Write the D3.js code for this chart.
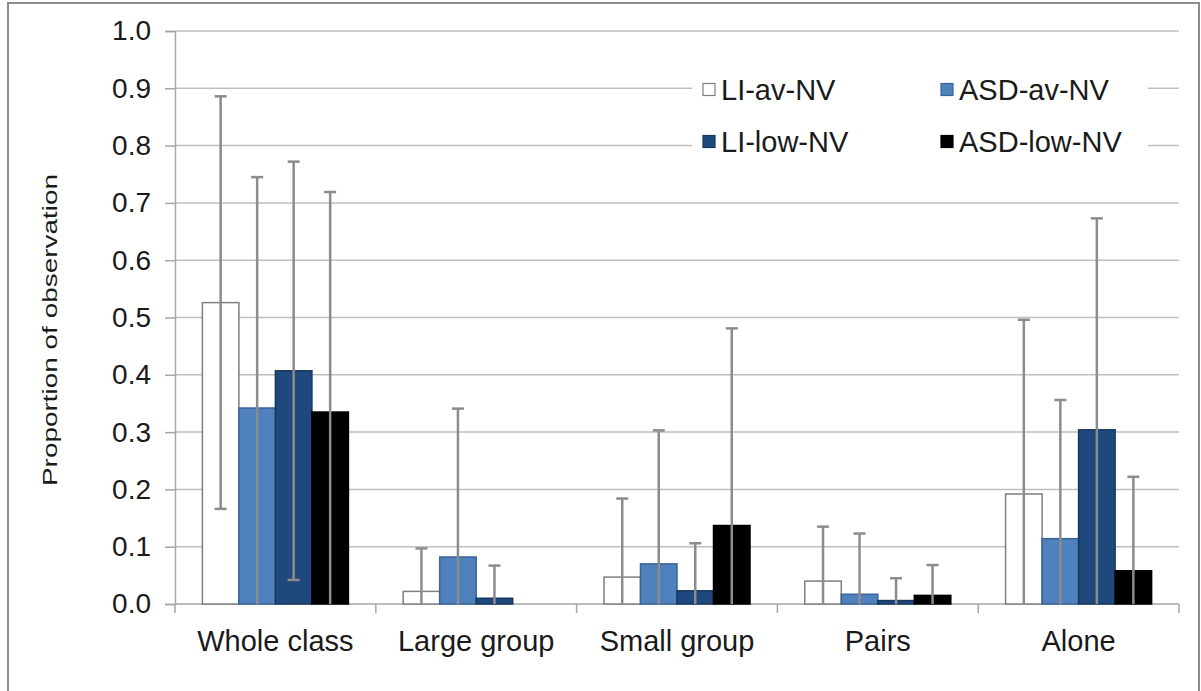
<!DOCTYPE html>
<html lang="en">
<head>
<meta charset="UTF-8">
<title>Proportion of observation</title>
<style>
    body { margin: 0; background: #fff; }
    svg text { font-family: "Liberation Sans", Arial, sans-serif; fill: #1a1a1a; }
</style>
</head>
<body>
<div id="chart"></div>
<script src="https://d3js.org/d3.v7.min.js"></script>
<script>
    // data
    const categories = ["Whole class", "Large group", "Small group", "Pairs", "Alone"];
    const seriesNames = ["LI-av-NV", "ASD-av-NV", "LI-low-NV", "ASD-low-NV"];
    const liAv = [0.526, 0.022, 0.047, 0.040, 0.192];
    const asdAv = [0.342, 0.082, 0.070, 0.017, 0.114];
    const liLow = [0.407, 0.010, 0.023, 0.006, 0.304];
    const asdLow = [0.335, 0.000, 0.137, 0.015, 0.058];
    const liAvSd = [0.360, 0.075, 0.137, 0.095, 0.304];
    const asdAvSd = [0.403, 0.259, 0.233, 0.106, 0.242];
    const liLowSd = [0.365, 0.057, 0.083, 0.039, 0.369];
    const asdLowSd = [0.384, 0.000, 0.344, 0.053, 0.164];
    const yTicks = [0, 0.1, 0.2, 0.3, 0.4, 0.5, 0.6, 0.7, 0.8, 0.9, 1.0];

    const means = [liAv, asdAv, liLow, asdLow];
    const sds = [liAvSd, asdAvSd, liLowSd, asdLowSd];
    const fills = ["#ffffff", "#4f81bd", "#1f497d", "#000000"];
    const strokes = ["#7f7f7f", "#3a6396", "#17375e", "#000000"];

    const width = 1201, height = 691;
    const plotLeft = 175, plotRight = 1179, plotTop = 31, plotBottom = 604;

    const svg = d3.select("#chart").append("svg")
        .attr("width", width)
        .attr("height", height);

    // outer frame
    svg.append("rect")
        .attr("x", 8).attr("y", 3)
        .attr("width", 1191).attr("height", 720)
        .attr("fill", "#fff")
        .attr("stroke", "#8c8c8c")
        .attr("stroke-width", 2);

    const x0 = d3.scaleBand().domain(categories).range([plotLeft, plotRight]);
    // excel gap width 150%: 4 bars + 1.5 bar of gap per category
    const gap = x0.bandwidth() * 0.75 / 5.5;
    const x1 = d3.scaleBand().domain(seriesNames).range([gap, x0.bandwidth() - gap]);
    const y = d3.scaleLinear().domain([0, 1]).range([plotBottom, plotTop]);

    // gridlines
    svg.append("g").selectAll("line")
        .data(yTicks.filter(d => d > 0))
        .join("line")
        .attr("x1", plotLeft).attr("x2", plotRight)
        .attr("y1", d => y(d)).attr("y2", d => y(d))
        .attr("stroke", "#bfbfbf")
        .attr("stroke-width", 1.5);

    // y axis
    const yAxis = d3.axisLeft(y)
        .tickValues(yTicks)
        .tickFormat(d3.format(".1f"))
        .tickSize(10)
        .tickPadding(14);
    const gy = svg.append("g").attr("transform", `translate(${plotLeft},0)`).call(yAxis);
    gy.select(".domain").attr("stroke", "#a6a6a6").attr("stroke-width", 1.5);
    gy.selectAll(".tick line").attr("stroke", "#a6a6a6").attr("stroke-width", 1.5);
    gy.selectAll(".tick text").attr("font-size", 28).attr("fill", "#1a1a1a");

    // x axis with ticks at category boundaries
    svg.append("line")
        .attr("x1", plotLeft).attr("x2", plotRight)
        .attr("y1", plotBottom).attr("y2", plotBottom)
        .attr("stroke", "#a6a6a6").attr("stroke-width", 1.5);
    svg.append("g").selectAll("line")
        .data(categories.concat(["end"]))
        .join("line")
        .attr("x1", (d, i) => plotLeft + i * x0.step())
        .attr("x2", (d, i) => plotLeft + i * x0.step())
        .attr("y1", plotBottom).attr("y2", plotBottom + 9)
        .attr("stroke", "#a6a6a6").attr("stroke-width", 1.5);
    svg.append("g").selectAll("text")
        .data(categories)
        .join("text")
        .attr("x", d => x0(d) + x0.bandwidth() / 2)
        .attr("y", 651)
        .attr("text-anchor", "middle")
        .attr("font-size", 29)
        .text(d => d);

    // bars
    const rows = [];
    seriesNames.forEach((s, si) => {
        categories.forEach((c, ci) => {
            rows.push({ s, si, c, v: means[si][ci], sd: sds[si][ci] });
        });
    });

    svg.append("g").selectAll("rect")
        .data(rows.filter(d => d.v > 0))
        .join("rect")
        .attr("x", d => x0(d.c) + x1(d.s))
        .attr("y", d => y(d.v))
        .attr("width", x1.bandwidth())
        .attr("height", d => y(0) - y(d.v))
        .attr("fill", d => fills[d.si])
        .attr("stroke", d => strokes[d.si])
        .attr("stroke-width", 1.5);

    // error bars (lower end clipped at the axis)
    const err = svg.append("g").selectAll("g")
        .data(rows.filter(d => d.sd > 0))
        .join("g")
        .attr("stroke", "#8c8c8c")
        .attr("stroke-width", 2.5);
    const cx = d => x0(d.c) + x1(d.s) + x1.bandwidth() / 2;
    err.append("line")
        .attr("x1", cx).attr("x2", cx)
        .attr("y1", d => y(d.v + d.sd))
        .attr("y2", d => y(Math.max(0, d.v - d.sd)));
    err.append("line")
        .attr("x1", d => cx(d) - 6).attr("x2", d => cx(d) + 6)
        .attr("y1", d => y(d.v + d.sd)).attr("y2", d => y(d.v + d.sd));
    err.filter(d => d.v - d.sd > 0).append("line")
        .attr("x1", d => cx(d) - 6).attr("x2", d => cx(d) + 6)
        .attr("y1", d => y(d.v - d.sd)).attr("y2", d => y(d.v - d.sd));

    // legend
    const legend = svg.append("g");
    legend.append("rect")
        .attr("x", 692).attr("y", 62)
        .attr("width", 456).attr("height", 108)
        .attr("fill", "#fff");
    const lx = [703, 941], ly = [89.5, 141.5];
    const item = legend.selectAll("g.item")
        .data(seriesNames)
        .join("g")
        .attr("class", "item")
        .attr("transform", (d, i) => `translate(${lx[i % 2]},${ly[Math.floor(i / 2)]})`);
    item.append("rect")
        .attr("x", 0).attr("y", -6)
        .attr("width", 12).attr("height", 12)
        .attr("fill", (d, i) => fills[i])
        .attr("stroke", (d, i) => strokes[i])
        .attr("stroke-width", 1.2);
    item.append("text")
        .attr("x", 18)
        .attr("dy", "0.36em")
        .attr("font-size", 29)
        .text(d => d);

    // y title
    svg.append("text")
        .attr("transform", "translate(57,330) rotate(-90)")
        .attr("text-anchor", "middle")
        .attr("font-size", 21)
        .attr("textLength", 312)
        .attr("lengthAdjust", "spacingAndGlyphs")
        .text("Proportion of observation");
</script>
</body>
</html>
